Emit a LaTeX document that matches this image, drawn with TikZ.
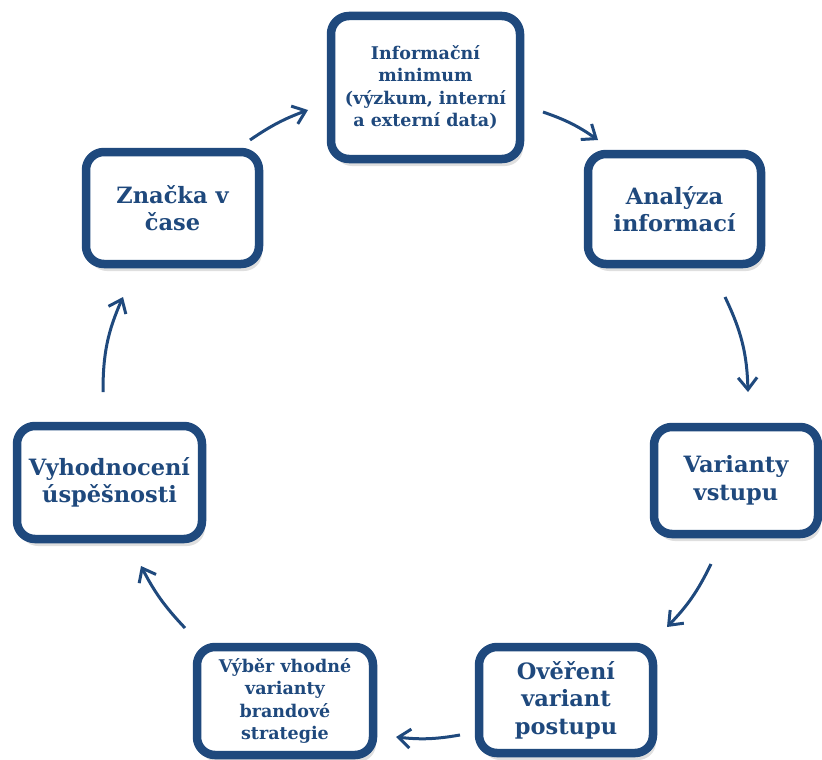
\documentclass[tikz,border=0pt]{standalone}
\usepackage{fontspec}
\setmainfont{DejaVu Serif}
\usepackage{tikz}
\usetikzlibrary{positioning,shadows,arrows.meta}
\definecolor{brandblue}{HTML}{1F497D}

\begin{document}
\begin{tikzpicture}[x=1pt,y=-1pt,
		box/.style={draw=brandblue,line width=8.5pt,rounded corners=18pt,fill=white,text=brandblue,align=center,inner sep=0pt,font=\bfseries\fontsize{22.5}{27.5}\selectfont,drop shadow={shadow xshift=3pt,shadow yshift=-7pt,opacity=0.25}},
		smallbox/.style={box,font=\bfseries\fontsize{17.5}{22.5}\selectfont},
		arr/.style={brandblue,line width=3pt,-{Straight Barb[length=12pt,width=19pt]},bend left=12}]
		\useasboundingbox (0,0) rectangle (822,760);
		
		\node[smallbox,minimum width=189pt,minimum height=143pt] (info) at (425.5,87.5) {Informační\\minimum\\(výzkum, interní\\a externí data)};
		\node[box,minimum width=173pt,minimum height=110pt] (analyza) at (674.5,209) {Analýza\\informací};
		\node[box,minimum width=164pt,minimum height=107pt] (varianty) at (736,480.5) {Varianty\\vstupu};
		\node[box,minimum width=174pt,minimum height=106pt] (overeni) at (566,700) {Ověření\\variant\\postupu};
		\node[smallbox,minimum width=176pt,minimum height=108pt] (vyber) at (285,701) {Výběr vhodné\\varianty\\brandové\\strategie};
		\node[box,minimum width=185pt,minimum height=113pt] (vyhodnoceni) at (109.5,482.5) {Vyhodnocení\\úspěšnosti};
		\node[box,minimum width=173pt,minimum height=112pt] (znacka) at (172.5,208) {Značka v\\čase};
		
		% konce sipek
		\coordinate (z1) at (250,140);   \coordinate (z2) at (308,110);
		\coordinate (i1) at (543,112);   \coordinate (i2) at (598,140);
		\coordinate (a1) at (725,297);   \coordinate (a2) at (748,392);
		\coordinate (v1) at (711,564);   \coordinate (v2) at (667,627);
		\coordinate (o1) at (460,735);   \coordinate (o2) at (396,737);
		\coordinate (b1) at (185,628);   \coordinate (b2) at (141,566);
		\coordinate (h1) at (103,392);   \coordinate (h2) at (123,297);
		
		\draw[arr,bend left=7] (z1) to (z2);
		\draw[arr,bend left=8] (i1) to (i2);
		\draw[arr] (a1) to (a2);
		\draw[arr,bend left=9] (v1) to (v2);
		\draw[arr,bend left=8] (o1) to (o2);
		\draw[arr,bend left=8] (b1) to (b2);
		\draw[arr] (h1) to (h2);
	\end{tikzpicture}
\end{document}
